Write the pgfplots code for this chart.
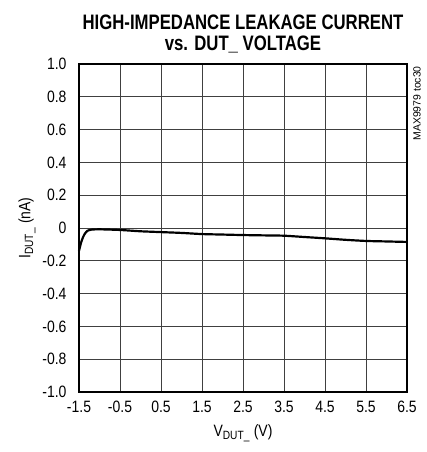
\documentclass[border=0pt]{standalone}
\usepackage{fontspec}
\setmainfont{Liberation Sans}[FakeStretch=0.85]
\newfontfamily\titlefont{Liberation Sans Bold}[FakeStretch=0.8]
\newfontfamily\plainfont{Liberation Sans}
\usepackage{pgfplots}
\pgfplotsset{compat=1.18}
\begin{document}
\begin{tikzpicture}
\begin{axis}[
  scale only axis,
  width=328bp, height=328bp,
  xmin=-1.5, xmax=6.5, ymin=-1, ymax=1,
  xtick={-1.5,-0.5,0.5,1.5,2.5,3.5,4.5,5.5,6.5},
  xticklabels={-1.5,-0.5,0.5,1.5,2.5,3.5,4.5,5.5,6.5},
  ytick={-1,-0.8,-0.6,-0.4,-0.2,0,0.2,0.4,0.6,0.8,1},
  yticklabels={-1.0,-0.8,-0.6,-0.4,-0.2,0,0.2,0.4,0.6,0.8,1.0},
  major tick length=0pt,
  grid=major,
  major grid style={black!75, line width=0.8pt},
  axis line style={line width=1.8pt},
  tick label style={font=\fontsize{16.5}{18}\selectfont},
  xticklabel style={yshift=-6bp},
  yticklabel style={xshift=-9bp},
  xlabel={V\textsubscript{\fontsize{12}{13}\selectfont DUT\_} (V)},
  ylabel={I\textsubscript{\fontsize{12}{13}\selectfont DUT\_} (nA)},
  every axis x label/.style={at={(rel axis cs:0.5,0)}, yshift=-41bp, anchor=center, font=\fontsize{16.5}{18}\selectfont},
  every axis y label/.style={at={(rel axis cs:0,0.5)}, xshift=-52bp, rotate=90, anchor=center, font=\fontsize{16.5}{18}\selectfont},
  title={HIGH-IMPEDANCE LEAKAGE CURRENT\\vs. DUT\_ VOLTAGE},
  title style={align=center, yshift=1bp, font=\titlefont\fontsize{21}{22}\selectfont},
  clip=false,
]
\addplot[black, line width=2.2pt, smooth, tension=0.4] coordinates {
(-1.5,-0.14) (-1.45,-0.09) (-1.4,-0.055) (-1.35,-0.032) (-1.3,-0.018)
(-1.2,-0.01) (-1.0,-0.008) (-0.5,-0.012) (0,-0.02) (0.5,-0.025)
(1,-0.03) (1.5,-0.037) (2,-0.04) (2.5,-0.043) (3,-0.045) (3.5,-0.047)
(4,-0.055) (4.5,-0.063) (5,-0.072) (5.5,-0.079) (6,-0.082) (6.5,-0.085)
};
\node[rotate=90, anchor=north east, font=\plainfont\fontsize{10.5}{11}\selectfont, inner sep=0pt]
  at ([xshift=6bp,yshift=-2bp]rel axis cs:1,1) {MAX9979 toc30};
\end{axis}
\pgfresetboundingbox
\useasboundingbox ([xshift=-79bp,yshift=-60bp]current axis.south west) rectangle ([xshift=20bp,yshift=64bp]current axis.north east);
\end{tikzpicture}
\end{document}
